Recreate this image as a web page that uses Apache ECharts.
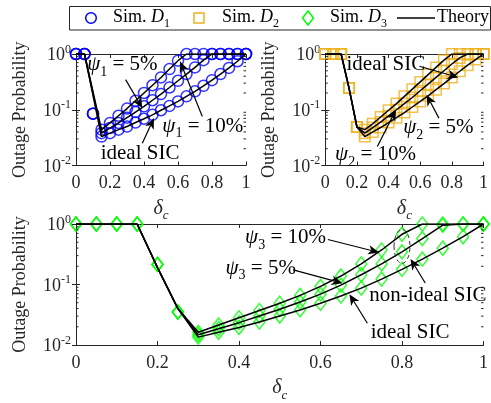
<!DOCTYPE html>
<html><head><meta charset="utf-8">
<script src="https://cdn.jsdelivr.net/npm/echarts@6/dist/echarts.min.js"></script>
<style>html,body{margin:0;padding:0;background:#fff}#c{width:491px;height:403px}</style>
</head><body><div id="c"></div>
<script>
// ---------- data ----------
const deltaC = [0,0.05,0.1,0.15,0.2,0.25,0.3,0.35,0.4,0.45,0.5,0.55,0.6,0.65,0.7,0.75,0.8,0.85,0.9,0.95,1];
const xTicks = [0,0.2,0.4,0.6,0.8,1];
const yTicks = [0.01,0.1,1];
const minorTicks = [0.02,0.03,0.04,0.05,0.06,0.07,0.08,0.09,0.2,0.3,0.4,0.5,0.6,0.7,0.8,0.9];

// Panel 1 (D1)
const simD1Ideal = [1,1,0.085,0.033,0.038,0.044,0.050,0.059,0.069,0.081,0.098,0.117,0.141,0.174,0.214,0.269,0.339,0.437,0.562,0.741,1];
const simD1Psi5  = [1,1,0.085,0.038,0.047,0.058,0.072,0.091,0.115,0.148,0.191,0.251,0.331,0.437,0.575,0.776,1,1,1,1,1];
const simD1Psi10 = [1,1,0.085,0.044,0.058,0.078,0.105,0.145,0.200,0.275,0.380,0.537,0.759,1,1,1,1,1,1,1,1];
const thD1Ideal  = [1,1,null,0.033,0.038,0.044,0.050,0.059,0.069,0.081,0.098,0.117,0.141,0.174,0.214,0.269,0.339,0.437,0.562,0.741,1];
const thD1Psi5   = [1,1,null,0.038,0.047,0.058,0.072,0.091,0.115,0.148,0.191,0.251,0.331,0.437,0.575,0.776,1,1,1,1,1];
const thD1Psi10  = [1,1,null,0.044,0.058,0.078,0.105,0.145,0.200,0.275,0.380,0.537,0.759,1,1,1,1,1,1,1,1];

// Panel 2 (D2)
const simD2Ideal = [1,1,1,0.245,0.049,0.033,0.040,0.048,0.059,0.072,0.089,0.112,0.141,0.178,0.229,0.295,0.380,0.490,0.631,0.794,1];
const simD2Psi5  = [1,1,1,0.245,0.049,0.038,0.048,0.060,0.078,0.100,0.129,0.166,0.219,0.288,0.380,0.501,0.661,0.851,1,1,1];
const simD2Psi10 = [1,1,1,0.245,0.049,0.044,0.056,0.074,0.098,0.129,0.174,0.234,0.316,0.427,0.575,0.776,1,1,1,1,1];
const thD2Ideal  = [1,1,1,0.245,0.049,0.033,0.040,0.048,0.059,0.072,0.089,0.112,0.141,0.178,0.229,0.295,0.380,0.490,0.631,0.794,1];
const thD2Psi5   = [1,1,1,0.245,0.049,0.038,0.048,0.060,0.078,0.100,0.129,0.166,0.219,0.288,0.380,0.501,0.661,0.851,1,1,1];
const thD2Psi10  = [1,1,1,0.245,0.049,0.044,0.056,0.074,0.098,0.129,0.174,0.234,0.316,0.427,0.575,0.776,1,1,1,1,1];

// Panel 3 (D3)
const simD3Ideal = [1,1,1,1,0.215,0.035,0.0135,0.0162,0.0195,0.0240,0.0302,0.0380,0.049,0.0646,0.0871,0.123,0.178,0.263,0.398,0.617,1];
const simD3Psi5  = [1,1,1,1,0.215,0.035,0.0148,0.0186,0.0234,0.0302,0.0389,0.0513,0.0692,0.0977,0.145,0.219,0.347,0.575,0.955,1,1];
const simD3Psi10 = [1,1,1,1,0.215,0.035,0.0162,0.0214,0.0282,0.0372,0.049,0.0661,0.0933,0.138,0.219,0.372,0.676,1,1,1,1];
const thD3Ideal  = [1,1,1,1,0.19,0.040,0.0135,0.0162,0.0195,0.0240,0.0302,0.0380,0.049,0.0646,0.0871,0.123,0.178,0.263,0.398,0.617,1];
const thD3Psi5   = [1,1,1,1,0.19,0.040,0.0148,0.0186,0.0234,0.0302,0.0389,0.0513,0.0692,0.0977,0.145,0.219,0.347,0.575,0.955,1,1];
const thD3Psi10  = [1,1,1,1,0.19,0.040,0.0162,0.0214,0.0282,0.0372,0.049,0.0661,0.0933,0.138,0.219,0.372,0.676,1,1,1,1];

const legendNames = ['Sim. D1','Sim. D2','Sim. D3','Theory'];

// annotations (data coordinates): panel, kind, subscript, text, [x,p] of left-middle of text
const annoTexts = [
  [0, 'psi', '1', ' = 5%', 0.066, 0.60],
  [0, 'psi', '1', ' = 10%', 0.508, 0.047],
  [0, 'txt', '', 'ideal SIC', 0.145, 0.0151],
  [1, 'txt', '', 'ideal SIC', 0.134, 0.60],
  [1, 'psi', '2', ' = 5%', 0.492, 0.044],
  [1, 'psi', '2', ' = 10%', 0.062, 0.0145],
  [2, 'psi', '3', ' = 10%', 0.415, 0.555],
  [2, 'psi', '3', ' = 5%', 0.367, 0.173],
  [2, 'txt', '', 'non-ideal SIC', 0.7195, 0.0608],
  [2, 'txt', '', 'ideal SIC', 0.7234, 0.0148]
];
// arrows: panel, tail x, tail p, head x, head p
const annoArrows = [
  [0, 0.292, 0.347, 0.39, 0.107],
  [0, 0.743, 0.0759, 0.612, 0.741],
  [0, 0.39, 0.0251, 0.459, 0.0708],
  [1, 0.595, 0.603, 0.841, 0.380],
  [1, 0.718, 0.0708, 0.64, 0.186],
  [1, 0.329, 0.0219, 0.447, 0.100],
  [2, 0.618, 0.555, 0.744, 0.339],
  [2, 0.533, 0.174, 0.654, 0.105],
  [2, 0.857, 0.106, 0.821, 0.265],
  [2, 0.715, 0.0229, 0.671, 0.0692]
];
const dashedEllipse = [2, 0.80, 0.427];

// ---------- chart ----------
const FONT = 'Liberation Serif';
const AX = '#262626';
const chart = echarts.init(document.getElementById('c'));

const grids = [
  {left:76, top:54, width:170, height:111.5},
  {left:325.3, top:54, width:162.3, height:111.5},
  {left:76, top:224, width:411, height:125}
];

const tickRich = {
  b:{fontFamily:FONT,fontSize:18,color:AX,verticalAlign:'bottom'},
  s:{fontFamily:FONT,fontSize:12,color:AX,verticalAlign:'bottom',padding:[0,0,9,0]}
};
const nameRich = {
  i:{fontFamily:FONT,fontSize:20,fontStyle:'italic',color:AX,verticalAlign:'bottom',padding:[0,0,4,0]},
  s:{fontFamily:FONT,fontSize:13,fontStyle:'italic',color:AX,verticalAlign:'bottom'}
};

const xAxis = [], yAxis = [];
grids.forEach((g, gi) => {
  const common = {gridIndex:gi, type:'value', min:xTicks[0], max:xTicks[xTicks.length-1], interval:0.2,
    splitLine:{show:false},
    axisLine:{onZero:false, lineStyle:{color:AX,width:1}},
    axisTick:{inside:true,length:4,lineStyle:{color:AX}}};
  xAxis.push(Object.assign({}, common, {position:'bottom',
    axisLabel:{fontFamily:FONT,fontSize:18,color:AX,margin:9},
    name:'{i|δ}{s|c}', nameLocation:'middle', nameGap:33,
    nameTextStyle:{rich:nameRich}}));
  xAxis.push(Object.assign({}, common, {position:'top', axisLabel:{show:false}}));
  const ycommon = {gridIndex:gi, type:'log', logBase:10, min:yTicks[0], max:yTicks[yTicks.length-1],
    splitLine:{show:false},
    axisLine:{lineStyle:{color:AX,width:1}},
    axisTick:{inside:true,length:4,lineStyle:{color:AX}}};
  yAxis.push(Object.assign({}, ycommon, {position:'left',
    axisLabel:{margin:5, formatter:v => '{b|10}{s|' + Math.round(Math.log10(v)) + '}', rich:tickRich},
    name:'Outage Probability', nameLocation:'middle', nameGap:47,
    nameTextStyle:{fontFamily:FONT,fontSize:18,color:AX}}));
  yAxis.push(Object.assign({}, ycommon, {position:'right', axisLabel:{show:false}}));
});

const zip = arr => deltaC.map((x,i) => [x, arr[i] === null ? '-' : arr[i]]);

const panels = [
  {name:'Sim. D1', symbol:'circle', size:11, color:'#0000ff', sims:[simD1Ideal,simD1Psi5,simD1Psi10], th:[thD1Ideal,thD1Psi5,thD1Psi10]},
  {name:'Sim. D2', symbol:'rect', size:10.5, color:'#EDB120', sims:[simD2Ideal,simD2Psi5,simD2Psi10], th:[thD2Ideal,thD2Psi5,thD2Psi10]},
  {name:'Sim. D3', symbol:'diamond', size:[11,14], color:'#00ff00', sims:[simD3Ideal,simD3Psi5,simD3Psi10], th:[thD3Ideal,thD3Psi5,thD3Psi10]}
];

const series = [];
const theorySeriesIdx = [];
panels.forEach((p, gi) => {
  p.sims.forEach(arr => series.push({
    type:'scatter', name:p.name, xAxisIndex:gi*2, yAxisIndex:gi*2,
    symbol:p.symbol, symbolSize:p.size, z:2,
    itemStyle:{color:'rgba(0,0,0,0)', borderColor:p.color, borderWidth:1.5},
    emphasis:{disabled:true}, data:zip(arr)
  }));
  p.th.forEach((arr, k) => {
    if (k === 0) theorySeriesIdx.push(series.length);
    series.push({
      type:'line', name:'Theory', xAxisIndex:gi*2, yAxisIndex:gi*2,
      symbol:'none', showSymbol:false, connectNulls:true, z:3,
      lineStyle:{color:'#000', width:1.5}, itemStyle:{color:'#000'},
      emphasis:{disabled:true}, data:zip(arr)
    });
  });
  series.push({
    type:'custom', xAxisIndex:gi*2, yAxisIndex:gi*2, silent:true, z:4, clip:false,
    data:minorTicks.map(v => [0, v]),
    encode:{x:0, y:1},
    renderItem:(params, api) => {
      const v = api.value(1);
      const a = api.coord([xTicks[0], v]);
      const b = api.coord([xTicks[xTicks.length-1], v]);
      return {type:'group', children:[
        {type:'line', shape:{x1:a[0], y1:a[1], x2:a[0]+2.5, y2:a[1]}, style:{stroke:AX, lineWidth:1}},
        {type:'line', shape:{x1:b[0], y1:b[1], x2:b[0]-2.5, y2:b[1]}, style:{stroke:AX, lineWidth:1}}
      ]};
    }
  });
});

const option = {
  animation:false,
  backgroundColor:'#fff',
  grid:grids,
  xAxis, yAxis, series
};
chart.setOption(option);

// ---------- legend (drawn as graphic for exact MATLAB-like layout) ----------
const legRich = {
  t:{fontFamily:FONT,fontSize:18,color:'#000',verticalAlign:'bottom',padding:[0,0,3,0]},
  i:{fontFamily:FONT,fontSize:18,fontStyle:'italic',color:'#000',verticalAlign:'bottom',padding:[0,0,3,0]},
  s:{fontFamily:FONT,fontSize:12,color:'#000',verticalAlign:'bottom'}
};
const legendText = {
  'Sim. D1':'{t|Sim. }{i|D}{s|1}',
  'Sim. D2':'{t|Sim. }{i|D}{s|2}',
  'Sim. D3':'{t|Sim. }{i|D}{s|3}',
  'Theory':'{t|Theory}'
};
const LY = 18;
const graphics = [
  {type:'rect', z:100, silent:true, shape:{x:69.5, y:6.5, width:421, height:23.5}, style:{fill:'#fff', stroke:AX, lineWidth:1}},
  {type:'circle', z:101, silent:true, shape:{cx:91, cy:LY, r:5.3}, style:{fill:'none', stroke:panels[0].color, lineWidth:1.5}},
  {type:'rect', z:101, silent:true, shape:{x:194, y:LY-5, width:10, height:10}, style:{fill:'none', stroke:panels[1].color, lineWidth:1.5}},
  {type:'polygon', z:101, silent:true, shape:{points:[[308,LY-7],[313.5,LY],[308,LY+7],[302.5,LY]]}, style:{fill:'none', stroke:panels[2].color, lineWidth:1.5}},
  {type:'line', z:101, silent:true, shape:{x1:397, y1:LY, x2:435, y2:LY}, style:{stroke:'#000', lineWidth:1.5}}
];
[[legendNames[0],113],[legendNames[1],222],[legendNames[2],330],[legendNames[3],437]].forEach(([n, x]) => {
  graphics.push({type:'text', z:101, silent:true, x, y:LY+1, style:{text:legendText[n], rich:legRich, align:'left', verticalAlign:'middle'}});
});

// ---------- annotations ----------
const annoRich = {
  i:{fontFamily:FONT,fontSize:21,fontStyle:'italic',color:'#000',verticalAlign:'bottom',padding:[0,0,4,0]},
  s:{fontFamily:FONT,fontSize:14,color:'#000',verticalAlign:'bottom'},
  n:{fontFamily:FONT,fontSize:21,color:'#000',verticalAlign:'bottom',padding:[0,0,4,0]}
};
const toPx = (panel, x, p) => chart.convertToPixel({seriesIndex:theorySeriesIdx[panel]}, [x, p]);
annoTexts.forEach(a => {
  const pt = toPx(a[0], a[4], a[5]);
  const text = a[1] === 'psi' ? '{i|ψ}{s|' + a[2] + '}{n|' + a[3] + '}' : '{n|' + a[3] + '}';
  graphics.push({type:'text', x:pt[0], y:pt[1], z:100, silent:true,
    style:{text, rich:annoRich, align:'left', verticalAlign:'middle'}});
});
annoArrows.forEach(a => {
  const t = toPx(a[0], a[1], a[2]);
  const h = toPx(a[0], a[3], a[4]);
  const dx = h[0]-t[0], dy = h[1]-t[1], L = Math.hypot(dx, dy);
  const ux = dx/L, uy = dy/L, nx = -uy, ny = ux;
  const HL = 11, HW = 9.5, notch = 3;
  const bx = h[0]-ux*HL, by = h[1]-uy*HL;
  const mx = h[0]-ux*(HL-notch), my = h[1]-uy*(HL-notch);
  graphics.push({type:'line', z:100, silent:true, shape:{x1:t[0], y1:t[1], x2:mx, y2:my}, style:{stroke:'#000', lineWidth:1.2}});
  graphics.push({type:'polygon', z:100, silent:true, shape:{points:[[h[0],h[1]],[bx+nx*HW/2, by+ny*HW/2],[mx,my],[bx-nx*HW/2, by-ny*HW/2]]}, style:{fill:'#000'}});
});
{
  const c = toPx(dashedEllipse[0], dashedEllipse[1], dashedEllipse[2]);
  graphics.push({type:'ellipse', z:100, silent:true, shape:{cx:c[0], cy:c[1], rx:8, ry:17},
    style:{fill:'none', stroke:'#333', lineWidth:1, lineDash:[4,3]}});
}
chart.setOption({graphic:graphics});
</script>
</body></html>
